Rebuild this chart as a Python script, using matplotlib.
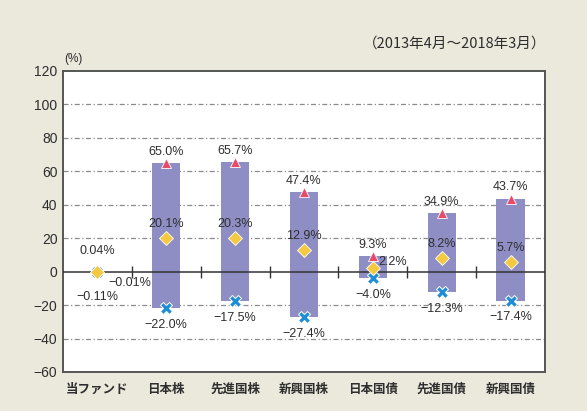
import numpy as np
import matplotlib.pyplot as plt

plt.rcParams['font.family'] = ['Liberation Sans', 'Noto Sans CJK JP', 'DejaVu Sans']

categories = ['当ファンド', '日本株', '先進国株', '新興国株', '日本国債', '先進国債', '新興国債']
max_vals = [0.04, 65.0, 65.7, 47.4, 9.3, 34.9, 43.7]
avg_vals = [-0.01, 20.1, 20.3, 12.9, 2.2, 8.2, 5.7]
min_vals = [-0.11, -22.0, -17.5, -27.4, -4.0, -12.3, -17.4]
yticks = [-60, -40, -20, 0, 20, 40, 60, 80, 100, 120]

txt = '#2e2e2e'
fig = plt.figure(figsize=(5.87, 4.11), dpi=100)
fig.patch.set_facecolor('#ebe8dc')
ax = fig.add_axes([0.1073, 0.0949, 0.8211, 0.7324])
ax.set_facecolor('white')

x = np.arange(len(categories))
mx = np.array(max_vals)
av = np.array(avg_vals)
mn = np.array(min_vals)


def pct(v, nd):
    return f'{v:.{nd}f}%'.replace('-', '\u2212')


# grid
for v in yticks:
    if v not in (0, 120, -60):
        ax.axhline(v, color='#8a8a8a', lw=0.9, ls=(0, (4, 2, 1, 2)), zorder=1)

ax.bar(x, mx - mn, bottom=mn, width=0.41, color='#8e8ec4', zorder=2)
ax.axhline(0, color='#333333', lw=1.1, zorder=3)
ax.plot(x[:-1] + 0.5, np.zeros(len(x) - 1), ls='none', marker='|', ms=8, mew=1.0,
        color='#333333', zorder=3)

ax.plot(x, mx, ls='none', marker='^', ms=7, color='#e84a6a', mec='white', mew=0.6, zorder=4)
ax.plot(x, mn, ls='none', marker='X', ms=8, color='#1e8fd6', mec='white', mew=0.7, zorder=4)
ax.plot(x, av, ls='none', marker='D', ms=7.5, color='#f5c842', mec='white', mew=0.6, zorder=5)

fs = 9
for i in range(len(x)):
    if i == 0:
        ax.annotate(pct(mx[i], 2), (x[i], 0), xytext=(0, 15), textcoords='offset points',
                    ha='center', va='center', fontsize=fs, color=txt)
        ax.annotate(pct(av[i], 2), (x[i], 0), xytext=(23, -8), textcoords='offset points',
                    ha='center', va='center', fontsize=fs, color=txt)
        ax.annotate(pct(mn[i], 2), (x[i], 0), xytext=(0, -18), textcoords='offset points',
                    ha='center', va='center', fontsize=fs, color=txt)
        continue
    ax.annotate(pct(mx[i], 1), (x[i], mx[i]), xytext=(0, 8), textcoords='offset points',
                ha='center', va='center', fontsize=fs, color=txt)
    if i == 4:
        ax.annotate(pct(av[i], 1), (x[i], av[i]), xytext=(14, 4), textcoords='offset points',
                    ha='center', va='center', fontsize=fs, color=txt)
    else:
        ax.annotate(pct(av[i], 1), (x[i], av[i]), xytext=(0, 10), textcoords='offset points',
                    ha='center', va='center', fontsize=fs, color=txt)
    ax.annotate(pct(mn[i], 1), (x[i], mn[i]), xytext=(0, -12), textcoords='offset points',
                ha='center', va='center', fontsize=fs, color=txt)

ax.set_xlim(-0.5, len(x) - 0.5)
ax.set_ylim(-60, 120)
ax.set_yticks(yticks)
ax.set_yticklabels([str(v).replace('-', '\u2212') for v in yticks], fontsize=10, color=txt)
ax.set_xticks(x)
ax.set_xticklabels(categories, fontsize=9, color=txt, family=['Noto Sans CJK JP'],
                   fontweight='bold')
ax.tick_params(axis='y', length=0, pad=4)
ax.tick_params(axis='x', length=0, pad=8)
for s in ax.spines.values():
    s.set_color('#555555')
    s.set_linewidth(1.4)

fig.text(0.109, 0.857, '(%)', fontsize=8.5, color=txt, ha='left', va='center')
fig.text(0.93, 0.895, '（2013年4月～2018年3月）', fontsize=10.5, color=txt, ha='right', va='center',
         family=['Noto Sans CJK JP'])

fig.savefig('out.png', dpi=100, facecolor=fig.get_facecolor())
